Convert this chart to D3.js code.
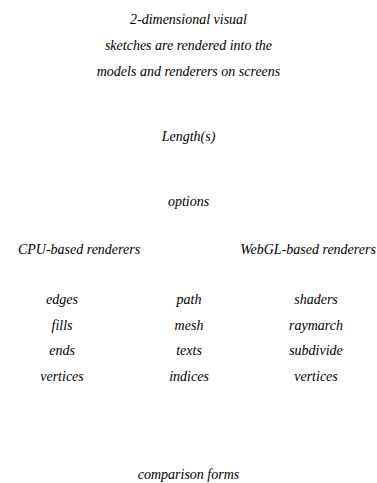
<!DOCTYPE html>
<html>
<head>
<meta charset="utf-8">
<script src="https://cdn.jsdelivr.net/npm/d3@7"></script>
<style>
    body { margin: 0; background: #fff; }
    svg text { font-family: "Liberation Serif", serif; font-style: italic; font-size: 14px; fill: #000; }
</style>
</head>
<body>
<svg id="chart" width="377" height="483"></svg>
<script>
// text of the diagram, top to bottom
const titleLines = ['2-dimensional visual', 'sketches are rendered into the', 'models and renderers on screens']
const stages = ['Length(s)', 'options']
const branches = ['CPU-based renderers', 'WebGL-based renderers']
const leafColumns = [
    ['edges', 'fills', 'ends', 'vertices'],
    ['path', 'mesh', 'texts', 'indices'],
    ['shaders', 'raymarch', 'subdivide', 'vertices'],
]
const footer = ['comparison forms']

const width = 377
const height = 483
const svg = d3.select('#chart')

// vertical positions of each block
let y = {
    title: d3.scaleLinear().domain([0, titleLines.length - 1]).range([24, 76]),
    stage: d3.scalePoint().domain(stages).range([141, 206]),
    branch: 254,
    leaf: d3.scaleLinear().domain([0, 3]).range([304, 381]),
    footer: 479,
}

// horizontal positions
let xBranch = d3.scalePoint().domain(branches).range([79, 308])
let xLeaf = d3.scalePoint().domain(d3.range(leafColumns.length)).range([62, 316])

svg.selectAll('.title')
    .data(titleLines)
    .enter()
    .append('text')
    .attr('class', 'title')
    .attr('x', width / 2)
    .attr('y', function(d, i) { return y.title(i) })
    .attr('text-anchor', 'middle')
    .text(function(d) { return d })

svg.selectAll('.stage')
    .data(stages)
    .enter()
    .append('text')
    .attr('class', 'stage')
    .attr('x', width / 2)
    .attr('y', function(d) { return y.stage(d) })
    .attr('text-anchor', 'middle')
    .text(function(d) { return d })

svg.selectAll('.branch')
    .data(branches)
    .enter()
    .append('text')
    .attr('class', 'branch')
    .attr('x', function(d) { return xBranch(d) })
    .attr('y', y.branch)
    .attr('text-anchor', 'middle')
    .text(function(d) { return d })

// one group per column, one text per row
let cols = svg.selectAll('.leaf-col')
    .data(leafColumns)
    .enter()
    .append('g')
    .attr('class', 'leaf-col')
    .attr('transform', function(d, i) { return 'translate(' + xLeaf(i) + ',0)' })

cols.selectAll('text')
    .data(function(d) { return d })
    .enter()
    .append('text')
    .attr('y', function(d, i) { return y.leaf(i) })
    .attr('text-anchor', 'middle')
    .text(function(d) { return d })

svg.selectAll('.footer')
    .data(footer)
    .enter()
    .append('text')
    .attr('class', 'footer')
    .attr('x', width / 2)
    .attr('y', y.footer)
    .attr('text-anchor', 'middle')
    .text(function(d) { return d })
</script>
</body>
</html>
